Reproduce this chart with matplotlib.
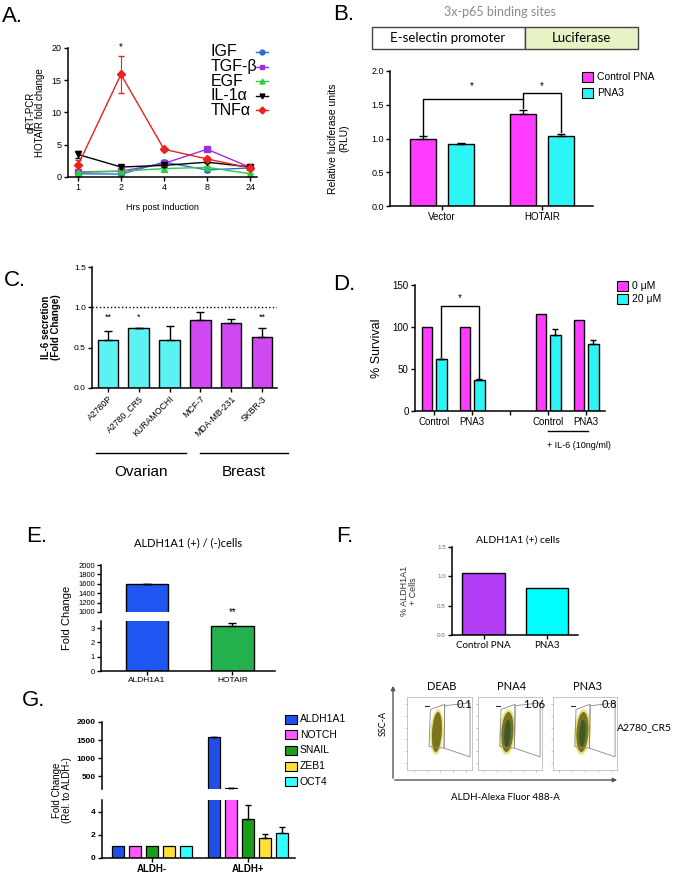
import numpy as np
import matplotlib.pyplot as plt
from matplotlib.patches import Rectangle, Ellipse, Polygon

W, H = 675, 874
plt.rcParams['font.family'] = ['Liberation Sans', 'DejaVu Sans']
CAL = ['Lato', 'DejaVu Sans']

# ---- data ----
# A: HOTAIR induction time course
hours = ['1', '2', '4', '8', '24']
igf = [0.5, 0.45, 2.3, 1.1, 1.4]
tgfb = [0.8, 0.9, 2.1, 4.3, 1.5]
egf = [0.7, 0.9, 1.3, 1.5, 0.5]
il1a = [3.5, 1.55, 1.8, 2.3, 1.55]
tnfa = [1.8, 15.9, 4.3, 2.8, 1.4]
igf_err = [0.1, 0.1, 0.3, 0.4, 0.1]
egf_err = [0.1, 0.1, 0.3, 0.2, 0.1]
il1a_err = [0.5, 0.2, 0.2, 0.2, 0.1]
tnfa_err = [0.9, 2.8, 0.2, 0.3, 0.2]
a_names = ['IGF', 'TGF-β', 'EGF', 'IL-1α', 'TNFα']

# B: luciferase
b_groups = ['Vector', 'HOTAIR']
rlu_ctrl = [1.0, 1.36]
rlu_ctrl_err = [0.03, 0.06]
rlu_pna3 = [0.92, 1.03]
rlu_pna3_err = [0.02, 0.04]

# C: IL-6 secretion
cells = ['A2780P', 'A2780_CR5', 'KURAMOCHI', 'MCF-7', 'MDA-MB-231', 'SKBR-3']
il6 = [0.6, 0.75, 0.6, 0.84, 0.8, 0.63]
il6_err = [0.11, 0.0, 0.17, 0.1, 0.05, 0.12]
il6_sig = ['**', '*', '', '', '', '**']

# D: survival
d_labels = ['Control', 'PNA3', 'Control', 'PNA3']
surv_0 = [100, 100, 115, 108]
surv_20 = [62, 37, 90, 80]
surv_20_err = [0, 1.5, 8, 5]

# E: ALDH1A1 (+)/(-) cells
e_genes = ['ALDH1A1', 'HOTAIR']
e_fold = [1590, 3.15]
e_err = [8, 0.2]

# F: ALDH1A1 (+) cells
f_groups = ['Control PNA', 'PNA3']
f_pct = [1.06, 0.8]
flow_labels = ['DEAB', 'PNA4', 'PNA3']
flow_pct = ['0.1', '1.06', '0.8']

# G: fold change rel. to ALDH-
g_groups = ['ALDH-', 'ALDH+']
g_genes = ['ALDH1A1', 'NOTCH', 'SNAIL', 'ZEB1', 'OCT4']
g_neg = [1, 1, 1, 1, 1]
g_pos = [1570, 160, 3.4, 1.7, 2.15]
g_pos_err = [8, 0, 1.15, 0.4, 0.55]

MAG = '#ff3cff'
CYN = '#2ef5f5'

fig = plt.figure(figsize=(W / 100, H / 100), dpi=100)


def px_axes(x0, y0, x1, y1):
    return fig.add_axes([x0 / W, 1 - y1 / H, (x1 - x0) / W, (y1 - y0) / H])


def prism(ax, fs=6, lw=1.1):
    for s in ['top', 'right']:
        ax.spines[s].set_visible(False)
    for s in ['left', 'bottom']:
        ax.spines[s].set_linewidth(lw)
    ax.tick_params(direction='out', length=3, width=1, labelsize=fs, pad=1.5)
    ax.patch.set_alpha(0)


def top_err(ax, x, y, err, cap=3):
    ax.errorbar(x, y, yerr=[np.zeros(len(err)), err], fmt='none',
                ecolor='k', elinewidth=1, capsize=cap, capthick=1)


# overlay in pixel coordinates for annotations
ov = fig.add_axes([0, 0, 1, 1], zorder=10)
ov.set_xlim(0, W)
ov.set_ylim(H, 0)
ov.axis('off')
ov.patch.set_visible(False)

for lab, (x, y) in zip('ABCDEFG', [(2, 16), (333, 15), (4, 280), (333, 285),
                                   (26, 536), (336, 536), (22, 701)]):
    ov.text(x, y, lab + '.', fontsize=16, va='center', ha='left')

# ---- A ----
ax = px_axes(68, 48, 257, 177)
prism(ax, 6.5)
xa = np.arange(len(hours))
a_series = [igf, tgfb, egf, il1a, tnfa]
a_errs = [igf_err, None, egf_err, il1a_err, tnfa_err]
a_cols = ['#2a6fd8', '#9b30d9', '#2ecc40', '#000000', '#e8231c']
a_mk = ['o', 's', '^', 'v', 'D']
for vals, err, c, m in zip(a_series, a_errs, a_cols, a_mk):
    ax.errorbar(xa, vals, yerr=err, color=c, marker=m, ms=3.8, lw=1,
                capsize=2.5, elinewidth=0.8)
ax.set_xlim(-0.23, 4.16)
ax.set_ylim(0, 20)
ax.set_yticks([0, 5, 10, 15, 20])
ax.set_xticks(xa, hours)
ax.text(1, 20.2, '*', ha='center', va='center', fontsize=7)
ax.set_ylabel('qRT-PCR\nHOTAIR fold change', fontsize=7, linespacing=1.0)
ax.yaxis.set_label_coords(-0.12, 0.5)
ax.set_xlabel('Hrs post Induction', fontsize=6.5)
ax.xaxis.set_label_coords(0.5, -0.2)
for i, (nm, c, m) in enumerate(zip(a_names, a_cols, a_mk)):
    y = 52 + 14.6 * i
    ov.text(211, y, nm, fontsize=11.5, va='center', ha='left')
    ov.plot([256, 268], [y, y], color=c, lw=1)
    ov.plot([262], [y], marker=m, color=c, ms=3.5)

# ---- B ----
ov.text(500, 12, '3x-p65 binding sites', fontsize=9, color='#8a8a8a',
        ha='center', va='center', family=CAL)
ov.add_patch(Rectangle((372, 27), 153, 22, facecolor='white', edgecolor='#444', lw=1))
ov.add_patch(Rectangle((525, 27), 113, 22, facecolor='#e6f3c4', edgecolor='#444', lw=1))
ov.text(448, 38, 'E-selectin promoter', fontsize=9.5, ha='center', va='center', family=CAL)
ov.text(581, 38, 'Luciferase', fontsize=9.5, ha='center', va='center', family=CAL)

ax = px_axes(390, 71, 593, 206)
prism(ax, 6.5)
xb = np.arange(len(b_groups))
ax.bar(xb - 0.19, rlu_ctrl, 0.26, color=MAG, edgecolor='k', lw=1)
ax.bar(xb + 0.19, rlu_pna3, 0.26, color=CYN, edgecolor='k', lw=1)
top_err(ax, xb - 0.19, rlu_ctrl, rlu_ctrl_err)
top_err(ax, xb + 0.19, rlu_pna3, rlu_pna3_err)
ax.set_xlim(-0.52, 1.51)
ax.set_ylim(0, 2)
ax.set_yticks([0, 0.5, 1.0, 1.5, 2.0])
ax.set_xticks(xb, b_groups, fontsize=7)
ax.plot([-0.19, -0.19, 0.81], [1.05, 1.59, 1.59], color='k', lw=1)
ax.plot([0.81, 0.81, 1.19, 1.19], [1.45, 1.67, 1.67, 1.1], color='k', lw=1)
ax.text(0.3, 1.77, '*', ha='center', va='center', fontsize=7)
ax.text(1.0, 1.77, '*', ha='center', va='center', fontsize=7)
ax.set_ylabel('Relative luciferase units\n(RLU)', fontsize=7.5)
ax.yaxis.set_label_coords(-0.2, 0.5)
for i, (nm, c) in enumerate(zip(['Control PNA', 'PNA3'], [MAG, CYN])):
    y = 77 + 16 * i
    ov.add_patch(Rectangle((582, y - 5), 11, 10, facecolor=c, edgecolor='k', lw=0.8))
    ov.text(597, y, nm, fontsize=7.5, va='center')

# ---- C ----
ax = px_axes(92, 267, 277, 388)
prism(ax, 6)
xc = np.arange(len(cells))
c_cols = ['#5cf2f2'] * 3 + ['#cf48f0'] * 3
ax.bar(xc, il6, 0.67, color=c_cols, edgecolor='k', lw=1)
top_err(ax, xc, il6, il6_err)
ax.axhline(1.0, ls=':', color='k', lw=1)
for x, s in zip(xc, il6_sig):
    ax.text(x, 0.88, s, ha='center', va='center', fontsize=6.5)
ax.set_xlim(-0.52, 5.49)
ax.set_ylim(0, 1.5)
ax.set_yticks([0, 0.5, 1.0, 1.5])
ax.set_xticks(xc, cells, rotation=45, ha='right', rotation_mode='anchor', fontsize=6.3)
ax.set_ylabel('IL-6 secretion\n(Fold Change)', fontsize=7, fontweight='bold', linespacing=1.0)
ax.yaxis.set_label_coords(-0.17, 0.5)
ov.plot([96, 186], [453, 453], color='k', lw=1)
ov.plot([200, 288], [453, 453], color='k', lw=1)
ov.text(141, 472, 'Ovarian', fontsize=11, ha='center', va='center')
ov.text(244, 472, 'Breast', fontsize=11, ha='center', va='center')

# ---- D ----
ax = px_axes(415, 285, 605, 411)
prism(ax, 7)
xd = np.array([0, 1, 3, 4])
ax.bar(xd - 0.18, surv_0, 0.28, color=MAG, edgecolor='k', lw=1)
ax.bar(xd + 0.19, surv_20, 0.28, color=CYN, edgecolor='k', lw=1)
top_err(ax, xd + 0.19, surv_20, surv_20_err, cap=2.5)
ax.set_xlim(-0.5, 4.5)
ax.set_ylim(0, 150)
ax.set_yticks([0, 50, 100, 150])
ax.set_xticks([0, 1, 2, 3, 4], d_labels[:2] + [''] + d_labels[2:], fontsize=7)
ax.plot([0.19, 0.19, 1.19, 1.19], [64, 125, 125, 39], color='k', lw=1)
ax.text(0.69, 134, '*', ha='center', va='center', fontsize=7)
ax.set_ylabel('% Survival', fontsize=9)
ax.yaxis.set_label_coords(-0.17, 0.5)
for i, (nm, c) in enumerate(zip(['0 μM', '20 μM'], [MAG, CYN])):
    y = 286 + 12.5 * i
    ov.add_patch(Rectangle((617, y - 5), 11, 10, facecolor=c, edgecolor='k', lw=0.8))
    ov.text(632, y, nm, fontsize=7.5, va='center')
ov.plot([548, 588], [431, 431], color='k', lw=1)
ov.text(547, 445, '+ IL-6 (10ng/ml)', fontsize=6.5, va='center')

# ---- E ----
e_cols = ['#1f55f0', '#22b14c']
xe = np.arange(len(e_genes))
axt = px_axes(101, 565, 275, 612)
axb = px_axes(101, 621, 275, 671)
for a in (axt, axb):
    prism(a, 5.5)
    a.bar(xe, e_fold, 0.5, color=e_cols, edgecolor='k', lw=1)
    top_err(a, xe, e_fold, e_err, cap=3)
    a.set_xlim(-0.54, 1.5)
axt.set_ylim(1000, 2000)
axt.set_yticks(np.arange(1000, 2001, 200))
axt.spines['bottom'].set_visible(False)
axt.set_xticks([])
axb.set_ylim(0, 3.5)
axb.set_yticks([0, 1, 2, 3])
axb.set_xticks(xe, e_genes, fontsize=6)
axb.text(1, 4.15, '**', ha='center', va='center', fontsize=7)
ov.text(188, 543, 'ALDH1A1 (+) / (-)cells', fontsize=8, ha='center', va='center', family=CAL)
ov.text(67, 618, 'Fold Change', fontsize=8, rotation=90, ha='center', va='center')

# ---- F ----
ax = px_axes(452, 547, 578, 635)
prism(ax, 4.5)
xf = np.arange(len(f_groups))
ax.bar(xf, f_pct, 0.67, color=['#b33cf5', '#00ffff'], edgecolor='k', lw=1)
ax.set_xlim(-0.5, 1.49)
ax.set_ylim(0, 1.5)
ax.set_yticks([0, 0.5, 1.0, 1.5])
ax.tick_params(axis='y', labelcolor='#666')
ax.set_xticks(xf, f_groups, fontsize=7, family=CAL)
ax.set_ylabel('% ALDH1A1\n+ Cells', fontsize=6.5, color='#333', linespacing=1.0)
ax.yaxis.set_label_coords(-0.27, 0.5)
ov.text(518, 540, 'ALDH1A1 (+) cells', fontsize=7.5, ha='center', va='center', family=CAL)

# flow plots
ov.annotate('', xy=(393, 683), xytext=(393, 781),
            arrowprops=dict(arrowstyle='-|>', color='#555', lw=1, mutation_scale=6))
ov.annotate('', xy=(620, 780), xytext=(392, 780),
            arrowprops=dict(arrowstyle='-|>', color='#555', lw=1, mutation_scale=6))
ov.text(383, 723, 'SSC-A', fontsize=6.5, rotation=90, ha='center', va='center', family=CAL)
ov.text(505, 797, 'ALDH-Alexa Fluor 488-A', fontsize=7, ha='center', va='center', family=CAL)
ov.text(644, 728, 'A2780_CR5', fontsize=7.5, ha='center', va='center', family=CAL)
boxes = [(407, 472), (478, 542), (553, 617)]
for (x0, x1), nm, pct, k in zip(boxes, flow_labels, flow_pct, range(3)):
    fa = px_axes(x0, 697, x1, 770)
    fa.set_xlim(0, 1)
    fa.set_ylim(0, 1)
    fa.set_xticks(np.linspace(0.1, 0.9, 5))
    fa.set_yticks(np.linspace(0.1, 0.9, 6))
    fa.tick_params(length=1.5, width=0.4, color='#999', labelbottom=False, labelleft=False)
    for s in fa.spines.values():
        s.set_color('#bbb')
        s.set_linewidth(0.6)
    grow = 1.0 if k == 0 else 1.25
    fa.add_patch(Ellipse((0.46, 0.52), 0.2 * grow, 0.62, angle=-4, facecolor='#e9e27a', edgecolor='none'))
    fa.add_patch(Ellipse((0.46, 0.52), 0.15 * grow, 0.55, angle=-4, facecolor='#7a7420', edgecolor='none'))
    if k > 0:
        fa.add_patch(Ellipse((0.46, 0.5), 0.1, 0.38, angle=-4, facecolor='#3f5a2a', edgecolor='none'))
    fa.add_patch(Polygon([(0.34, 0.32), (0.36, 0.83), (0.58, 0.9), (0.57, 0.3)],
                         closed=True, fill=False, edgecolor='#888', lw=0.6))
    fa.add_patch(Polygon([(0.58, 0.88), (0.97, 0.92), (0.97, 0.18), (0.57, 0.3)],
                         closed=True, fill=False, edgecolor='#888', lw=0.6))
    fa.plot([0.28, 0.34], [0.88, 0.88], color='#333', lw=0.8)
    cx = (x0 + x1) / 2
    ov.text(cx + 2, 686, nm, fontsize=8, ha='center', va='center', family=CAL)
    ov.text(x1 - 8, 704, pct, fontsize=8, ha='center', va='center', family=CAL)

# ---- G ----
g_cols = ['#1f4fe8', '#ff55ff', '#1a9e1a', '#ffe135', '#33ffff']
xg = np.arange(len(g_groups))
gt = px_axes(102, 722, 295, 789)
gb = px_axes(102, 800, 295, 858)
for a in (gt, gb):
    prism(a, 6)
    for i, c in enumerate(g_cols):
        off = (i - 2) * 0.177
        vals = [g_neg[i], g_pos[i]]
        a.bar(xg + off, vals, 0.125, color=c, edgecolor='k', lw=0.9)
        top_err(a, [1 + off], [g_pos[i]], [g_pos_err[i]], cap=2)
    a.set_xlim(-0.52, 1.49)
gt.set_ylim(140, 2000)
gt.set_yticks([500, 1000, 1500, 2000])
gt.spines['bottom'].set_visible(False)
gt.set_xticks([])
gb.set_ylim(0, 5)
gb.set_yticks([0, 2, 4])
gb.set_xticks(xg, g_groups, fontsize=7, fontweight='bold')
for a in (gt, gb):
    for t in a.get_yticklabels():
        t.set_fontweight('bold')
ov.text(62, 790, 'Fold Change\n(Rel. to ALDH-)', fontsize=7, rotation=90,
        ha='center', va='center', linespacing=1.0)
for i, (nm, c) in enumerate(zip(g_genes, g_cols)):
    y = 719 + 15.7 * i
    ov.add_patch(Rectangle((285, y - 4.5), 12, 9, facecolor=c, edgecolor='k', lw=0.8))
    ov.text(300, y, nm, fontsize=7.5, va='center')

fig.savefig('out.png', dpi=100)
